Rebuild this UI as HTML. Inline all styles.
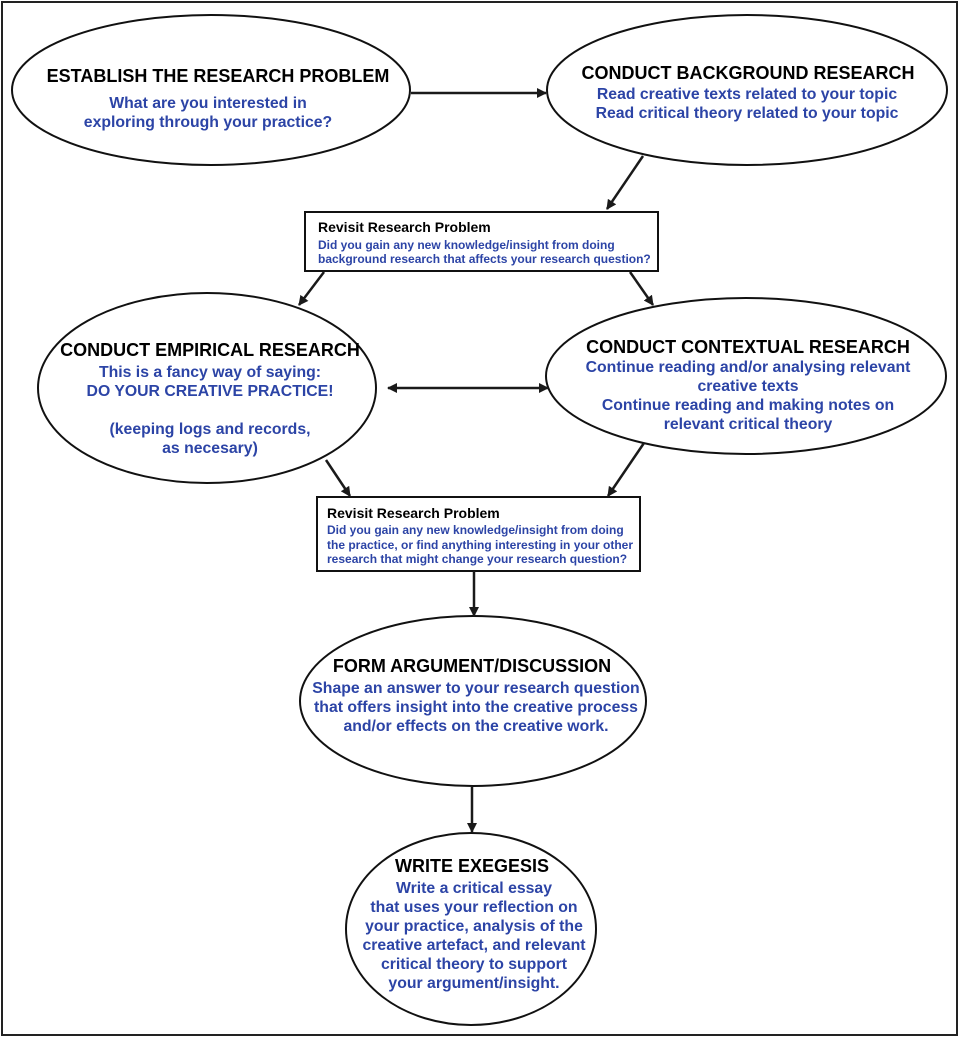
<!DOCTYPE html>
<html><head><meta charset="utf-8"><style>
html,body{margin:0;padding:0;background:#fff;}
svg{display:block;font-family:"Liberation Sans",Arial,sans-serif;}
.t{font-weight:bold;font-size:18px;fill:#000;text-anchor:middle;}
.b{font-weight:bold;font-size:15.8px;fill:#2c44a6;text-anchor:middle;}
.bt{font-weight:bold;font-size:14px;fill:#000;}
.bb{font-weight:bold;font-size:12px;fill:#2c44a6;}
</style></head><body>
<svg width="963" height="1037" viewBox="0 0 963 1037" xmlns="http://www.w3.org/2000/svg">
<defs><marker id="a" markerWidth="10" markerHeight="10" refX="9" refY="5" orient="auto" markerUnits="userSpaceOnUse"><path d="M0,0 L10,5 L0,10 Z" fill="#1a1a1a"/></marker>
<marker id="s" markerWidth="10" markerHeight="10" refX="1" refY="5" orient="auto" markerUnits="userSpaceOnUse"><path d="M10,0 L0,5 L10,10 Z" fill="#1a1a1a"/></marker></defs>
<rect x="2" y="2" width="955" height="1033" fill="none" stroke="#222" stroke-width="2"/>
<g fill="#fff" stroke="#111" stroke-width="2">
<ellipse cx="211" cy="90" rx="199" ry="75"/>
<ellipse cx="747" cy="90" rx="200" ry="75"/>
<ellipse cx="207" cy="388" rx="169" ry="95"/>
<ellipse cx="746" cy="376" rx="200" ry="78"/>
<ellipse cx="473" cy="701" rx="173" ry="85"/>
<ellipse cx="471" cy="929" rx="125" ry="96"/>
<rect x="305" y="212" width="353" height="59"/>
<rect x="317" y="497" width="323" height="74"/>
</g>
<g stroke="#1a1a1a" stroke-width="2.5" fill="none">
<line x1="411" y1="93" x2="546" y2="93" marker-end="url(#a)"/>
<line x1="643" y1="156" x2="607" y2="209" marker-end="url(#a)"/>
<line x1="324" y1="272" x2="299" y2="305" marker-end="url(#a)"/>
<line x1="630" y1="272" x2="653" y2="305" marker-end="url(#a)"/>
<line x1="388" y1="388" x2="548" y2="388" marker-start="url(#s)" marker-end="url(#a)"/>
<line x1="326" y1="460" x2="350" y2="496" marker-end="url(#a)"/>
<line x1="644" y1="443" x2="608" y2="496" marker-end="url(#a)"/>
<line x1="474" y1="571" x2="474" y2="616" marker-end="url(#a)"/>
<line x1="472" y1="787" x2="472" y2="832" marker-end="url(#a)"/>
</g>
<text class="t" x="218" y="82">ESTABLISH THE RESEARCH PROBLEM</text>
<text class="b" x="208" y="108">What are you interested in</text>
<text class="b" x="208" y="127">exploring through your practice?</text>
<text class="t" x="748" y="79">CONDUCT BACKGROUND RESEARCH</text>
<text class="b" x="747" y="99">Read creative texts related to your topic</text>
<text class="b" x="747" y="118">Read critical theory related to your topic</text>
<text class="bt" x="318" y="232">Revisit Research Problem</text>
<text class="bb" x="318" y="249">Did you gain any new knowledge/insight from doing</text>
<text class="bb" x="318" y="263">background research that affects your research question?</text>
<text class="t" x="210" y="356">CONDUCT EMPIRICAL RESEARCH</text>
<text class="b" x="210" y="377">This is a fancy way of saying:</text>
<text class="b" x="210" y="396">DO YOUR CREATIVE PRACTICE!</text>
<text class="b" x="210" y="434">(keeping logs and records,</text>
<text class="b" x="210" y="453">as necesary)</text>
<text class="t" x="748" y="353">CONDUCT CONTEXTUAL RESEARCH</text>
<text class="b" x="748" y="372">Continue reading and/or analysing relevant</text>
<text class="b" x="748" y="391">creative texts</text>
<text class="b" x="748" y="410">Continue reading and making notes on</text>
<text class="b" x="748" y="429">relevant critical theory</text>
<text class="bt" x="327" y="518">Revisit Research Problem</text>
<text class="bb" x="327" y="534">Did you gain any new knowledge/insight from doing</text>
<text class="bb" x="327" y="549">the practice, or find anything interesting in your other</text>
<text class="bb" x="327" y="563">research that might change your research question?</text>
<text class="t" x="472" y="672">FORM ARGUMENT/DISCUSSION</text>
<text class="b" x="476" y="693">Shape an answer to your research question</text>
<text class="b" x="476" y="712">that offers insight into the creative process</text>
<text class="b" x="476" y="731">and/or effects on the creative work.</text>
<text class="t" x="472" y="872">WRITE EXEGESIS</text>
<text class="b" x="474" y="893">Write a critical essay</text>
<text class="b" x="474" y="912">that uses your reflection on</text>
<text class="b" x="474" y="931">your practice, analysis of the</text>
<text class="b" x="474" y="950">creative artefact, and relevant</text>
<text class="b" x="474" y="969">critical theory to support</text>
<text class="b" x="474" y="988">your argument/insight.</text>
</svg>
</body></html>
